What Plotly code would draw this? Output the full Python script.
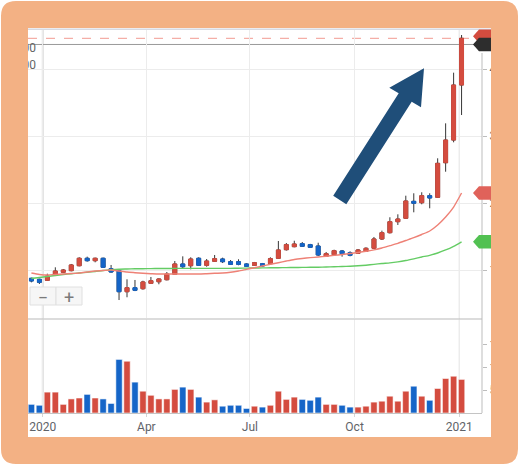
import plotly.graph_objects as go
import pandas as pd

# ---------------- data ----------------
dates = pd.date_range("2019-12-22", periods=55, freq="7D")

open_ = [87.6, 86.1, 84.6, 92.5, 96.6, 99.0, 106.4, 117.5, 113.9, 117.5,
         101.9, 99.0, 67.6, 73.6, 72.1, 80.1, 82.5, 85.5, 93.6, 109.0,
         106.4, 117.5, 107.0, 113.0, 116.4, 112.4, 112.4, 109.0, 107.0, 109.4,
         109.4, 117.5, 130.3, 134.8, 139.3, 137.8, 135.8, 120.4, 122.8, 128.4,
         125.8, 124.9, 127.9, 132.4, 146.3, 155.7, 172.1, 177.2, 202.5, 200.4,
         210.9, 208.5, 260.1, 294.0, 376.1]
high = [88.5, 87.0, 94.5, 104.0, 101.5, 109.0, 119.0, 119.9, 118.5, 118.5,
        107.5, 100.5, 86.1, 85.1, 84.0, 89.6, 87.5, 97.0, 113.4, 120.4,
        119.0, 119.0, 116.4, 122.4, 118.4, 114.9, 116.0, 110.0, 112.0, 110.5,
        119.0, 143.3, 140.3, 143.7, 141.8, 139.0, 140.7, 126.9, 130.3, 129.9,
        127.9, 131.3, 133.9, 149.3, 158.7, 178.7, 183.1, 210.9, 214.5, 216.0,
        214.5, 266.7, 318.9, 394.5, 450.7]
low = [81.6, 79.1, 83.6, 91.0, 95.5, 98.0, 105.5, 112.4, 111.5, 103.0,
       96.0, 55.2, 59.3, 68.5, 70.6, 79.1, 78.7, 84.5, 93.0, 102.5,
       101.0, 106.0, 104.9, 112.0, 110.4, 107.5, 107.0, 104.5, 106.0, 105.0,
       108.5, 116.5, 129.0, 133.9, 134.5, 133.0, 120.9, 119.4, 121.3, 119.9,
       120.4, 123.9, 126.9, 131.3, 144.8, 154.5, 167.2, 176.1, 186.1, 198.1,
       192.1, 207.5, 246.7, 290.6, 331.3]
close = [83.6, 81.6, 91.0, 98.5, 100.0, 107.5, 117.5, 113.9, 117.5, 104.0,
         97.0, 67.6, 73.6, 69.7, 82.1, 84.0, 86.6, 94.0, 109.0, 104.9,
         116.4, 107.0, 113.4, 116.9, 112.4, 108.5, 108.5, 105.5, 110.9, 106.0,
         116.9, 129.9, 137.8, 138.8, 135.4, 133.9, 122.4, 124.3, 128.8, 124.3,
         121.9, 129.9, 132.4, 146.3, 155.7, 172.1, 176.1, 203.0, 199.6, 210.9,
         207.5, 259.2, 294.0, 376.1, 445.8]
volume_m = [19, 17, 46, 46, 19, 31, 33, 41, 33, 31,
            21, 118, 114, 68, 48, 39, 31, 31, 52, 57,
            52, 35, 24, 29, 15, 17, 17, 10, 15, 13,
            17, 48, 30, 35, 30, 28, 35, 19, 19, 17,
            13, 13, 15, 24, 26, 37, 26, 48, 59, 37,
            28, 54, 76, 81, 74]
ma_fast = [95.5, 93.3, 92.5, 93.3, 94.0, 94.8, 95.5, 97.0, 98.5, 99.3,
           100.0, 98.5, 97.0, 96.0, 95.1, 94.5, 94.0, 94.0, 94.0, 94.0,
           94.0, 94.0, 94.5, 95.1, 95.5, 96.6, 98.5, 101.0, 103.4, 106.0,
           108.5, 110.9, 113.4, 115.7, 117.2, 118.4, 119.4, 120.6, 121.8, 123.1,
           124.6, 126.1, 127.9, 130.1, 132.8, 136.3, 139.8, 144.0, 148.2, 153.0,
           158.2, 167.2, 179.1, 194.0, 214.9]
ma_slow = [87.3, 88.8, 90.3, 91.8, 93.3, 94.5, 95.5, 96.6, 97.8, 99.3,
           100.4, 101.2, 101.5, 101.8, 101.9, 102.1, 102.2, 102.2, 102.4, 102.5,
           102.5, 102.5, 102.5, 102.5, 102.5, 102.5, 102.7, 102.8, 103.0, 103.1,
           103.3, 103.4, 103.6, 103.7, 103.9, 104.0, 104.2, 104.5, 104.8, 105.2,
           105.7, 106.3, 107.2, 108.4, 109.7, 110.7, 112.2, 114.2, 116.7, 119.4,
           121.9, 125.4, 129.9, 135.4, 142.1]

tick_dates = ["2020-01-01", "2020-04-01", "2020-07-01", "2020-10-01", "2021-01-01"]
tick_text = ["2020", "Apr", "Jul", "Oct", "2021"]
year_lines = ["2020-01-01", "2021-01-01"]
price_ticks = [100, 200, 300, 400]
price_tick_text = ["100", "200", "300", "400"]
vol_ticks = [50, 100, 150]
vol_tick_text = ["50", "100", "150"]
marker_price = 436.6
x_range = ["2019-12-18 23:50", "2021-01-20 22:50"]

# ---------------- style ----------------
UP = "#d44c3f"
DOWN = "#1565c8"
WICK = "#363636"
GRID = "#ececec"
FONT = "Roboto, Arial, sans-serif"
TXT = "#5f6368"
ORANGE = "#f3b184"

W_FIG, H_FIG = 519, 465
L, T, R, B = 28, 29, 37, 52
PW, PH = W_FIG - L - R, H_FIG - T - B


def xp(px):
    return (px - L) / PW


def yp(py):
    return (T + PH - py) / PH


def path(points, close_path=True):
    s = "M " + " L ".join(f"{xp(a):.5f},{yp(b):.5f}" for a, b in points)
    return s + (" Z" if close_path else "")


vol_colors = [UP if c >= o else DOWN for o, c in zip(open_, close)]
body_high = [max(o, c) for o, c in zip(open_, close)]
body_low = [min(o, c) for o, c in zip(open_, close)]

fig = go.Figure()

fig.add_trace(go.Bar(
    x=dates, y=volume_m, xaxis="x", yaxis="y",
    marker=dict(color=vol_colors, line=dict(color="rgba(255,255,255,0.55)", width=1)),
    showlegend=False, hoverinfo="skip"))

fig.add_trace(go.Candlestick(
    x=dates, open=open_, high=high, low=low, close=close,
    xaxis="x2", yaxis="y2", whiskerwidth=0,
    increasing=dict(line=dict(color=WICK, width=1), fillcolor=WICK),
    decreasing=dict(line=dict(color=WICK, width=1), fillcolor=WICK),
    showlegend=False, hoverinfo="skip"))

fig.add_trace(go.Candlestick(
    x=dates, open=open_, high=body_high, low=body_low, close=close,
    xaxis="x2", yaxis="y2", whiskerwidth=0,
    increasing=dict(line=dict(color=UP, width=1), fillcolor=UP),
    decreasing=dict(line=dict(color=DOWN, width=1), fillcolor=DOWN),
    showlegend=False, hoverinfo="skip"))

fig.add_trace(go.Scatter(
    x=dates, y=ma_slow, xaxis="x2", yaxis="y2", mode="lines",
    line=dict(color="#64cc64", width=1.4, shape="spline", smoothing=0.6),
    showlegend=False, hoverinfo="skip"))
fig.add_trace(go.Scatter(
    x=dates, y=ma_fast, xaxis="x2", yaxis="y2", mode="lines",
    line=dict(color="#ee8176", width=1.4, shape="spline", smoothing=0.6),
    showlegend=False, hoverinfo="skip"))

shapes = []
# reference lines (behind candles)
shapes.append(dict(type="line", xref="x2", yref="y2", x0=x_range[0], x1=x_range[1],
                   y0=close[-1], y1=close[-1], layer="below",
                   line=dict(color="#f29a92", width=1, dash="dash")))
shapes.append(dict(type="line", xref="x2", yref="y2", x0=x_range[0], x1=x_range[1],
                   y0=marker_price, y1=marker_price, layer="below",
                   line=dict(color="#9a9a9a", width=1)))
# year grid lines
shapes.append(dict(type="line", xref="x", yref="paper", x0=year_lines[0], x1=year_lines[0],
                   y0=0, y1=1, layer="below", line=dict(color="#dedede", width=2)))
shapes.append(dict(type="line", xref="x", yref="paper", x0=year_lines[1], x1=year_lines[1],
                   y0=0, y1=1, layer="below", line=dict(color="#d2d2d2", width=1)))
# separator between price and volume panes
shapes.append(dict(type="line", xref="paper", yref="paper", x0=0, x1=1,
                   y0=yp(319), y1=yp(319), line=dict(color="#d0d0d0", width=1.5)))
# right axis line
shapes.append(dict(type="line", xref="paper", yref="paper", x0=1, x1=1,
                   y0=yp(53), y1=0, line=dict(color="#bdbdbd", width=1)))
# top border
shapes.append(dict(type="line", xref="paper", yref="paper", x0=xp(28), x1=xp(491),
                   y0=yp(29.3), y1=yp(29.3), line=dict(color="#d7dae3", width=1.5)))

# price tags on the right
tag_path = "M -9,0 L -3,6.7 L 32,6.7 L 32,-6.7 L -3,-6.7 Z"


def tag(value, color, text=None, text_color="#333333", yref="y2"):
    shapes.append(dict(type="path", xref="paper", yref=yref, xsizemode="pixel", ysizemode="pixel",
                       xanchor=1, yanchor=value, path=tag_path, fillcolor=color,
                       line=dict(width=0)))
    if text is not None:
        shapes.append(dict(type="rect", xref="paper", yref=yref, xsizemode="pixel", ysizemode="pixel",
                           xanchor=1, yanchor=value, x0=2.5, x1=30, y0=-6, y1=6,
                           fillcolor="rgba(0,0,0,0)", line=dict(width=0),
                           label=dict(text=text, textposition="middle left", padding=1,
                                      font=dict(family=FONT, size=12, color=text_color))))


tag(close[-1] + 3, UP)
tag(marker_price, "#2d2d2d", f"{marker_price:.0f}", "#ffffff")
tag(ma_fast[-1], "#e0625a", f"{ma_fast[-1]:.0f}")
tag(ma_slow[-1], "#52c152", f"{ma_slow[-1]:.0f}")

# left axis remnants
for yy in (47, 64):
    shapes.append(dict(type="rect", xref="paper", yref="paper", x0=xp(0), x1=xp(39),
                       y0=yp(yy + 6), y1=yp(yy - 6), fillcolor="rgba(0,0,0,0)", line=dict(width=0),
                       label=dict(text="00", textposition="middle right", padding=0,
                                  font=dict(family=FONT, size=12, color="#666666"))))

# zoom buttons
for x0, x1, sym in ((30, 56, "\u2212"), (56, 82, "+")):
    shapes.append(dict(type="rect", xref="paper", yref="paper", x0=xp(x0), x1=xp(x1),
                       y0=yp(305), y1=yp(287), fillcolor="#f6f6f6",
                       line=dict(color="#e0e0e0", width=1),
                       label=dict(text=sym, textposition="middle center",
                                  font=dict(family=FONT, size=18, color="#7a7a7a"))))

# big arrow
arrow_pts = [(333.2, 195.8), (398.7, 93.3), (389.3, 87.7), (424.0, 68.3),
             (421.0, 107.3), (411.7, 101.7), (346.3, 204.2)]
shapes.append(dict(type="path", xref="paper", yref="paper", path=path(arrow_pts),
                   fillcolor="#1f4e79", line=dict(width=0)))

# orange frame
r = 15
ox0, oy0, ox1, oy1 = 1, 1, 518, 464
outer = (f"M {xp(ox0 + r):.5f},{yp(oy0):.5f} L {xp(ox1 - r):.5f},{yp(oy0):.5f} "
         f"Q {xp(ox1):.5f},{yp(oy0):.5f} {xp(ox1):.5f},{yp(oy0 + r):.5f} "
         f"L {xp(ox1):.5f},{yp(oy1 - r):.5f} "
         f"Q {xp(ox1):.5f},{yp(oy1):.5f} {xp(ox1 - r):.5f},{yp(oy1):.5f} "
         f"L {xp(ox0 + r):.5f},{yp(oy1):.5f} "
         f"Q {xp(ox0):.5f},{yp(oy1):.5f} {xp(ox0):.5f},{yp(oy1 - r):.5f} "
         f"L {xp(ox0):.5f},{yp(oy0 + r):.5f} "
         f"Q {xp(ox0):.5f},{yp(oy0):.5f} {xp(ox0 + r):.5f},{yp(oy0):.5f} Z")
inner = path([(28, 28), (28, 437), (491, 437), (491, 28)])
shapes.append(dict(type="path", xref="paper", yref="paper", path=outer + " " + inner,
                   fillcolor=ORANGE, fillrule="evenodd", line=dict(width=0)))

fig.update_layout(
    width=W_FIG, height=H_FIG, autosize=False,
    margin=dict(l=L, r=R, t=T, b=B, pad=0, autoexpand=False),
    paper_bgcolor="#ffffff", plot_bgcolor="#ffffff",
    font=dict(family=FONT, size=12, color=TXT),
    showlegend=False, bargap=0.2, hovermode=False, dragmode=False,
    xaxis=dict(domain=[0, 1], anchor="y", type="date", range=x_range, automargin=False,
               tickvals=tick_dates, ticktext=tick_text, showgrid=True, gridcolor=GRID, gridwidth=1,
               ticks="outside", ticklen=3, tickcolor="#d5d5d5", showline=True, linecolor="#c4c4c4",
               linewidth=1, zeroline=False, tickfont=dict(size=12, color=TXT),
               rangeslider=dict(visible=False), fixedrange=True),
    xaxis2=dict(domain=[0, 1], anchor="y2", type="date", matches="x", automargin=False,
                tickvals=tick_dates, showticklabels=False, showgrid=True, gridcolor=GRID,
                gridwidth=1, ticks="", showline=False, zeroline=False,
                rangeslider=dict(visible=False), fixedrange=True),
    yaxis=dict(domain=[0, yp(319)], anchor="x", side="right", range=[0, 207], automargin=False,
               tickvals=vol_ticks, ticktext=vol_tick_text, showgrid=False, ticks="outside",
               ticklen=4, tickcolor="#bdbdbd", showline=False, zeroline=False,
               tickfont=dict(size=12, color=TXT), fixedrange=True),
    yaxis2=dict(domain=[yp(318), 1], anchor="x2", side="right", range=[28.36, 459.7],
                automargin=False,
                tickvals=price_ticks, ticktext=price_tick_text, showgrid=True, gridcolor=GRID,
                gridwidth=1, ticks="outside", ticklen=4, tickcolor="#bdbdbd", showline=False,
                zeroline=False, tickfont=dict(size=12, color=TXT), fixedrange=True),
    shapes=shapes,
)

post = (
    "document.documentElement.style.overflow='hidden';"
    "document.body.style.margin='0';document.body.style.overflow='hidden';"
)

fig.write_html(
    "out.html",
    config={"displayModeBar": False, "responsive": False},
    post_script=post,
)
